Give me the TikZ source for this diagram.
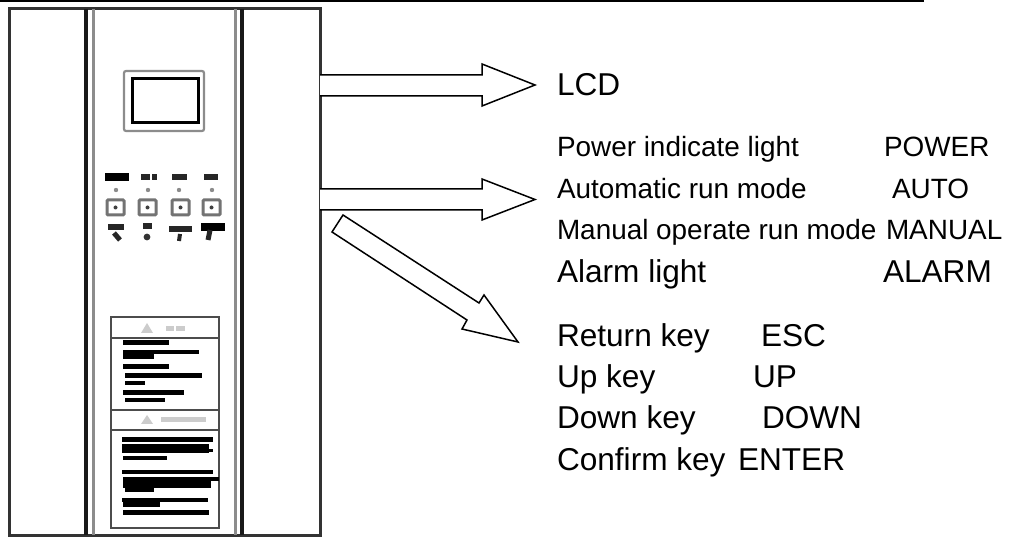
\documentclass[tikz,border=0pt]{standalone}
\usepackage{fontspec}
\setmainfont{Liberation Sans}
\definecolor{soft}{gray}{0.55}
\definecolor{pale}{gray}{0.8}
\definecolor{panel}{gray}{0.2}
\tikzset{
  big/.style={anchor=base west,inner sep=0pt,outer sep=0pt,font=\fontsize{31.6}{31.6}\selectfont},
  mid/.style={anchor=base west,inner sep=0pt,outer sep=0pt,font=\fontsize{27.9}{27.9}\selectfont},
  blockarrow/.style={draw=black,fill=white,line width=1.5pt,line join=miter},
  bar/.style={line width=#1,draw=black},
  bar/.default=4pt,
  softline/.style={draw=soft,line width=3pt},
  darkline/.style={draw=black!90,line width=3.2pt},
  keyblob/.style={line width=#1,draw=black!85},
  keybox/.style={draw=black!55,line width=3pt,fill=white,rounded corners=1pt},
  ghost/.style={draw=pale,line width=2pt}
}
\begin{document}
\begin{tikzpicture}[x=1pt,y=-1pt]
\useasboundingbox (0,0) rectangle (1013,537);
\fill[white] (0,0) rectangle (1013,537);
% top rule
\draw[line width=2.5pt] (0,1) -- (924,1);
% cabinet
\draw[draw=panel,line width=3pt] (9,535) -- (9,9) -- (320,9) -- (320,535) -- cycle;
\draw[darkline] (86,9) -- (86,535);
\draw[softline] (93,9) -- (93,535);
\draw[softline] (235,9) -- (235,535);
\draw[darkline] (242,9) -- (242,535);
% LCD
\draw[draw=soft,line width=2.2pt,rounded corners=2pt] (124,71) rectangle (204,131);
\draw[draw=black,line width=3pt] (132,79) rectangle (198,123);
% key legends top row
\draw[bar=8pt] (105,177) -- (129,177);
\draw[keyblob=6pt] (141,177) -- (150,177) (152,177) -- (157,177);
\draw[keyblob=6pt] (172,177) -- (187,177);
\draw[keyblob=6pt] (204,177) -- (218,177);
% small marks
\foreach \x in {116,148,179,212} \fill[soft] (\x,190) circle (2.2pt);
% key boxes
\foreach \x in {115.5,147.5,180.5,211.5} {
  \draw[keybox] (\x-8.5,200) rectangle (\x+8.5,215);
  \fill[black!75] (\x,207.5) circle (2pt);
}
% legends under keys
\draw[keyblob=6pt] (108,227) -- (124,227);
\draw[keyblob=5pt] (114,233) -- (120,240);
\draw[keyblob=6pt] (143,226) -- (152,226);
\fill[black!80] (147,237) circle (3.4pt);
\draw[keyblob=6pt] (169,229) -- (192,229);
\draw[keyblob=4pt] (180,234) -- (179,241);
\draw[bar=8pt] (201,227) -- (225,227);
\draw[keyblob=5pt] (210,230) -- (208,240);
% warning plate
\draw[draw=black!70,line width=1.5pt] (111,317) rectangle (219,528);
\draw[draw=black!70,line width=2.5pt] (111,338) -- (219,338);
\draw[draw=black!70,line width=1.5pt] (111,410) -- (219,410);
\draw[draw=black!70,line width=2pt] (111,430) -- (219,430);
\fill[pale] (147,323) -- (141,333) -- (153,333) -- cycle;
\draw[ghost,line width=5pt] (166,329) -- (174,329) (176,329) -- (185,329);
\fill[pale] (147,415) -- (141,424) -- (153,424) -- cycle;
\draw[ghost,line width=5pt] (161,420) -- (206,420);
\foreach \a/\b/\c/\w in {123/169/343/5,123/199/352/4,123/154/356/6,123/169/367/5,125/202/376/5,125/145/383/4,123/184/393/5,125/165/400/4,
 122/213/440/5,122/209/449/9,122/213/451/3,123/167/458/4,122/213/472/4,123/219/479/3,123/211/484/8,125/154/489/5,122/208/500/4,123/160/504/5,123/209/512/5}
  \draw[bar=\w pt] (\a,\c) -- (\b,\c);
% block arrows
\draw[blockarrow] (320,75) -- (482,75) -- (482,64) -- (535,85) -- (482,106) -- (482,96) -- (320,96);
\draw[blockarrow] (320,189) -- (482,189) -- (482,179) -- (535,199.5) -- (482,220) -- (482,210) -- (320,210);
\draw[blockarrow] (343,215) -- (479,303) -- (484,295) -- (518,342) -- (462,329) -- (467,320) -- (332,232) -- cycle;
% texts
\node[big] (lcd) at (557,96) {LCD};
\node[mid] (t1) at (557,157) {Power indicate light};
\node[mid] (v1) at (884,157) {POWER};
\node[mid] (t2) at (557,199) {Automatic run mode};
\node[mid] (v2) at (892,199) {AUTO};
\node[mid] (t3) at (557,240) {Manual operate run mode};
\node[mid] (v3) at (886,240) {MANUAL};
\node[big] (t4) at (557,283) {Alarm light};
\node[big] (v4) at (883,283) {ALARM};
\node[big] (k1) at (557,347) {Return key};
\node[big] (w1) at (761,347) {ESC};
\node[big] (k2) at (557,388) {Up key};
\node[big] (w2) at (753,388) {UP};
\node[big] (k3) at (557,429) {Down key};
\node[big] (w3) at (762,429) {DOWN};
\node[big] (k4) at (557,471) {Confirm key};
\node[big] (w4) at (738,471) {ENTER};
\end{tikzpicture}
\end{document}
